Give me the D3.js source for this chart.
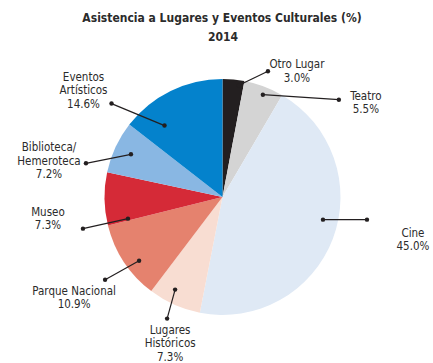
<!DOCTYPE html>
<html>
<head>
<meta charset="utf-8">
<script src="https://cdn.jsdelivr.net/npm/d3@7"></script>
<style>
  body { margin: 0; background: #fff; }
  svg { display: block; }
  text { font-family: "DejaVu Sans Condensed", "DejaVu Sans", sans-serif; fill: #2b2b2b; }
</style>
</head>
<body>
<svg id="chart"></svg>
<script>
const width = 433
const height = 363

// data
const categories = ['Otro Lugar', 'Teatro', 'Cine', 'Lugares Históricos', 'Parque Nacional', 'Museo', 'Biblioteca/ Hemeroteca', 'Eventos Artísticos']
const values = [3.0, 5.5, 45.0, 7.3, 10.9, 7.3, 7.2, 14.6]
const labelLines = [
  ['Otro Lugar'],
  ['Teatro'],
  ['Cine'],
  ['Lugares', 'Históricos'],
  ['Parque Nacional'],
  ['Museo'],
  ['Biblioteca/', 'Hemeroteca'],
  ['Eventos', 'Artísticos']
]
const colors = ['#231f20', '#d4d4d4', '#dfe9f5', '#f8ddd2', '#e5826e', '#d52a37', '#89b7e3', '#0482cc']

// label placement (angle nudge in degrees, inner radius, leader end offset, text offset from leader end)
const labelLayout = [
  { nudge: 3, r: 113, out: [29, -14], text: [29, -3] },
  { nudge: 1, r: 110, out: [76, 5], text: [27, 0] },
  { nudge: -8, r: 103, out: [44, 0], text: [46, 17] },
  { nudge: 3, r: 104, out: [-8, 29], text: [3, 15] },
  { nudge: -4, r: 105, out: [-34, 19], text: [-31, 15] },
  { nudge: -12, r: 97, out: [-45, 10], text: [-35, -13] },
  { nudge: 0, r: 101, out: [-45, 9], text: [-37, -12] },
  { nudge: -13, r: 92, out: [-53, -22], text: [-28, -23] }
]

const cx = 222.5
const cy = 197
const radius = 118
const lineH = 13.5

const svg = d3.select('#chart')
  .attr('width', width)
  .attr('height', height)

// title
svg.append('text')
  .attr('x', 222)
  .attr('y', 22)
  .attr('text-anchor', 'middle')
  .style('font-weight', 'bold')
  .style('font-size', '12px')
  .text('Asistencia a Lugares y Eventos Culturales (%)')

svg.append('text')
  .attr('x', 223)
  .attr('y', 41)
  .attr('text-anchor', 'middle')
  .style('font-weight', 'bold')
  .style('font-size', '12px')
  .text('2014')

const data = categories.map((c, i) => ({ name: c, value: values[i], lines: labelLines[i], color: colors[i], layout: labelLayout[i] }))

const pie = d3.pie()
  .value(d => d.value)
  .sort(null)

const arc = d3.arc()
  .innerRadius(0)
  .outerRadius(radius)

const g = svg.append('g')
  .attr('transform', `translate(${cx}, ${cy})`)

const arcs = pie(data)

g.selectAll('path')
  .data(arcs)
  .join('path')
  .attr('d', arc)
  .attr('fill', d => d.data.color)

// leaders
const leaders = g.append('g')
  .selectAll('g')
  .data(arcs)
  .join('g')
  .each(function (d) {
    const lay = d.data.layout
    const a = (d.startAngle + d.endAngle) / 2 + lay.nudge * Math.PI / 180
    const x1 = Math.sin(a) * lay.r
    const y1 = -Math.cos(a) * lay.r
    const x2 = x1 + lay.out[0]
    const y2 = y1 + lay.out[1]
    const sel = d3.select(this)

    sel.append('line')
      .attr('x1', x1).attr('y1', y1)
      .attr('x2', x2).attr('y2', y2)
      .attr('stroke', '#231f20')
      .attr('stroke-width', 1.2)

    sel.selectAll('circle')
      .data([[x1, y1], [x2, y2]])
      .join('circle')
      .attr('cx', p => p[0])
      .attr('cy', p => p[1])
      .attr('r', 2.2)
      .attr('fill', '#231f20')

    const tx = x2 + lay.text[0]
    const ty = y2 + lay.text[1]
    const lines = d.data.lines.concat([d3.format('.1f')(d.data.value) + '%'])

    const t = sel.append('text')
      .attr('text-anchor', 'middle')
      .style('font-size', '11.5px')

    t.selectAll('tspan')
      .data(lines)
      .join('tspan')
      .attr('x', tx)
      .attr('y', (l, i) => ty + i * lineH)
      .text(l => l)
  })
</script>
</body>
</html>
